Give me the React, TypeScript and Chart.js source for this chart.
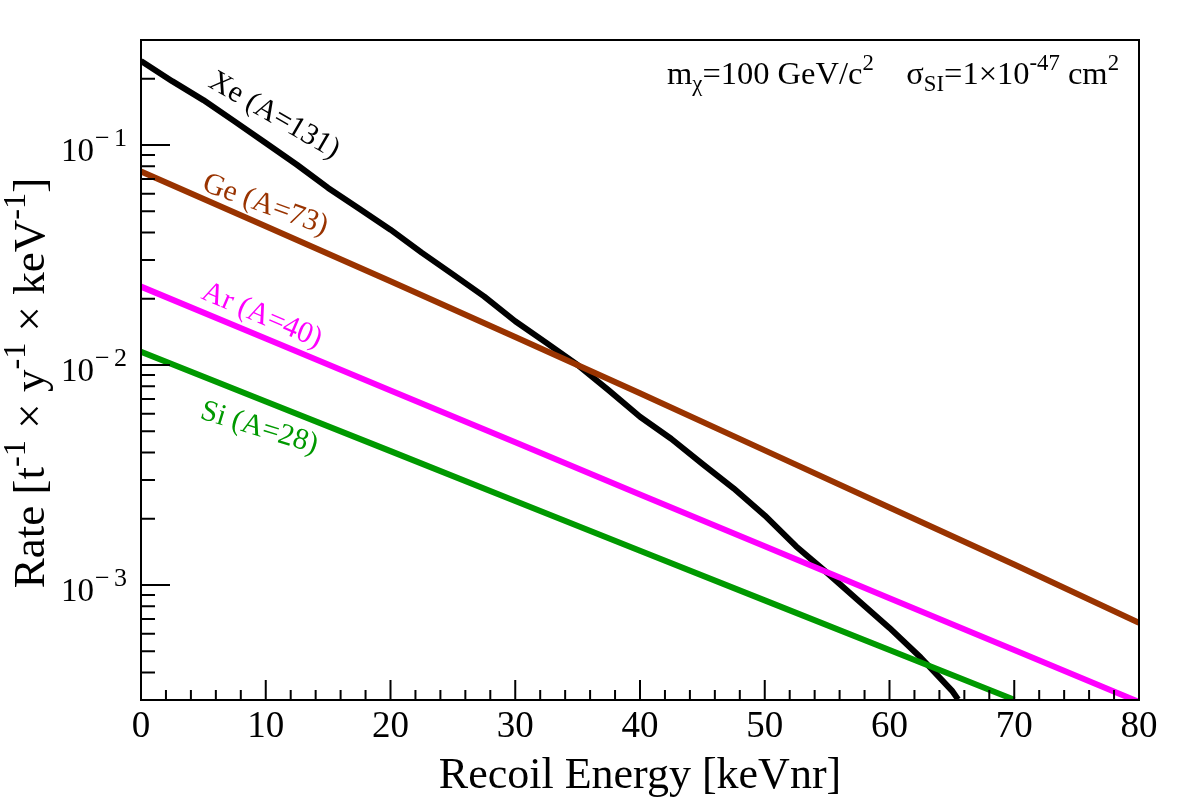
import React, { useEffect, useRef } from "react";
import { Chart, registerables } from "chart.js";

Chart.register(...registerables);

// Differential WIMP recoil spectra, rate in events / (t · y · keV)
const energyXe = [0, 2.5, 5, 7.5, 10, 12.5, 15, 17.5, 20, 22.5, 25, 27.5, 30, 32.5, 35, 37.5, 40, 42.5, 45, 47.5, 50, 52.5, 55, 57.5, 60, 62.5, 65, 65.5];
const rateXe = [0.241, 0.195, 0.16, 0.128, 0.102, 0.0813, 0.0638, 0.0513, 0.0412, 0.0324, 0.0258, 0.0205, 0.0158, 0.0126, 0.01, 0.00767, 0.00582, 0.00462, 0.00355, 0.00275, 0.00207, 0.0015, 0.001135, 0.000851, 0.000638, 0.000468, 0.000331, 0.000302];

const energyGe = [0, 10, 20, 30, 40, 50, 60, 70, 80];
const rateGe = [0.0757, 0.0427, 0.024, 0.0134, 0.00743, 0.00409, 0.00225, 0.00124, 0.000673];

const energyAr = [0, 10, 20, 30, 40, 50, 60, 70, 80];
const rateAr = [0.0227, 0.01318, 0.00766, 0.00445, 0.00258, 0.0015, 0.000871, 0.000506, 0.000294];

const energySi = [0, 10, 20, 30, 40, 50, 60, 70];
const rateSi = [0.01148, 0.00682, 0.00406, 0.00241, 0.00143, 0.000851, 0.000506, 0.000301];

const xTicks = [0, 10, 20, 30, 40, 50, 60, 70, 80];
const yDecades = [-3, -2, -1];

const SERIF = '"Liberation Serif", "Times New Roman", serif';

type Seg = { t: string; s?: number };

function richWidth(ctx: CanvasRenderingContext2D, segs: Seg[], size: number, ss: number) {
  let w = 0;
  for (const sg of segs) {
    ctx.font = `${sg.s ? size * ss : size}px ${SERIF}`;
    w += ctx.measureText(sg.t).width;
  }
  return w;
}

function drawRich(
  ctx: CanvasRenderingContext2D,
  segs: Seg[],
  x: number,
  y: number,
  size: number,
  align: "left" | "right" | "center",
  ss = 0.7
) {
  const w = richWidth(ctx, segs, size, ss);
  let cx = align === "left" ? x : align === "right" ? x - w : x - w / 2;
  ctx.textAlign = "left";
  ctx.textBaseline = "alphabetic";
  for (const sg of segs) {
    const fs = sg.s ? size * ss : size;
    ctx.font = `${fs}px ${SERIF}`;
    const dy = sg.s === 1 ? -size * 0.42 : sg.s === -1 ? size * 0.22 : 0;
    ctx.fillText(sg.t, cx, y + dy);
    cx += ctx.measureText(sg.t).width;
  }
}

const curveLabels = [
  { text: "Xe (A=131)", color: "#000000", x: 207, y: 86, angle: 30 },
  { text: "Ge (A=73)", color: "#993300", x: 201, y: 190, angle: 20 },
  { text: "Ar (A=40)", color: "#ff00ff", x: 200, y: 298, angle: 23 },
  { text: "Si (A=28)", color: "#009900", x: 199, y: 418, angle: 17 },
];

const framePlugin = {
  id: "rootFrame",
  afterDatasetsDraw(chart: any) {
    const ctx: CanvasRenderingContext2D = chart.ctx;
    const { left, right, top, bottom } = chart.chartArea;
    const xs = chart.scales.x;
    const ys = chart.scales.y;
    ctx.save();
    ctx.strokeStyle = "#000";
    ctx.fillStyle = "#000";
    ctx.lineWidth = 2;
    ctx.strokeRect(left, top, right - left, bottom - top);

    // x ticks (inside, every 2 keV)
    ctx.lineWidth = 2;
    ctx.beginPath();
    for (let v = 0; v <= 80; v += 2) {
      const px = xs.getPixelForValue(v);
      const len = v % 10 === 0 ? 20 : 10;
      ctx.moveTo(px, bottom);
      ctx.lineTo(px, bottom - len);
    }
    // y ticks (inside, log)
    for (let n = -4; n <= -1; n++) {
      for (let k = 1; k <= 9; k++) {
        const v = k * Math.pow(10, n);
        if (v < ys.min * 0.999 || v > ys.max * 1.001) continue;
        const py = ys.getPixelForValue(v);
        const len = k === 1 ? 29 : 14;
        ctx.moveTo(left, py);
        ctx.lineTo(left + len, py);
      }
    }
    ctx.stroke();

    // x tick labels
    ctx.textAlign = "center";
    ctx.textBaseline = "alphabetic";
    ctx.font = `37px ${SERIF}`;
    for (const v of xTicks) {
      ctx.fillText(String(v), xs.getPixelForValue(v), 737);
    }

    // y tick labels 10^n
    for (const n of yDecades) {
      const py = ys.getPixelForValue(Math.pow(10, n));
      ctx.textAlign = "right";
      ctx.font = `33px ${SERIF}`;
      ctx.fillText("10", left - 47, py + 16);
      ctx.textAlign = "left";
      ctx.font = `26px ${SERIF}`;
      ctx.fillText("\u2212", left - 46, py + 1);
      ctx.fillText(String(-n), left - 27, py + 1);
    }

    // axis titles
    ctx.fillStyle = "#000";
    drawRich(ctx, [{ t: "Recoil Energy [keVnr]" }], (left + right) / 2, 788, 44, "center");
    ctx.save();
    ctx.translate(44, 383);
    ctx.rotate(-Math.PI / 2);
    drawRich(
      ctx,
      [
        { t: "Rate [t" },
        { t: "-1", s: 1 },
        { t: " \u00d7 y" },
        { t: "-1", s: 1 },
        { t: " \u00d7 keV" },
        { t: "-1", s: 1 },
        { t: "]" },
      ],
      0,
      0,
      45,
      "center",
      0.72
    );
    ctx.restore();

    // model annotation
    drawRich(
      ctx,
      [
        { t: "m" },
        { t: "\u03c7", s: -1 },
        { t: "=100 GeV/c" },
        { t: "2", s: 1 },
        { t: "    \u03c3" },
        { t: "SI", s: -1 },
        { t: "=1\u00d710" },
        { t: "-47", s: 1 },
        { t: " cm" },
        { t: "2", s: 1 },
      ],
      1119,
      84,
      32.5,
      "right"
    );

    // curve labels
    for (const lb of curveLabels) {
      ctx.save();
      ctx.translate(lb.x, lb.y);
      ctx.rotate((lb.angle * Math.PI) / 180);
      ctx.fillStyle = lb.color;
      ctx.font = `30px ${SERIF}`;
      ctx.textAlign = "left";
      ctx.textBaseline = "alphabetic";
      ctx.fillText(lb.text, 0, 0);
      ctx.restore();
    }
    ctx.restore();
  },
};

function toPoints(xs: number[], ys: number[]) {
  return xs.map((x, i) => ({ x, y: ys[i] }));
}

export default function App() {
  const ref = useRef<HTMLCanvasElement | null>(null);

  useEffect(() => {
    document.body.style.margin = "0";
    const canvas = ref.current;
    if (!canvas) return;
    const line = (label: string, xs: number[], ys: number[], color: string) => ({
      label,
      data: toPoints(xs, ys),
      borderColor: color,
      backgroundColor: color,
      borderWidth: 6,
      pointRadius: 0,
      tension: 0,
      clip: 0,
      borderJoinStyle: "round" as const,
      borderCapStyle: "butt" as const,
    });
    const chart = new Chart(canvas, {
      type: "line",
      data: {
        datasets: [
          line("Ge", energyGe, rateGe, "#993300"),
          line("Ar", energyAr, rateAr, "#ff00ff"),
          line("Si", energySi, rateSi, "#009900"),
          line("Xe", energyXe, rateXe, "#000000"),
        ],
      },
      options: {
        responsive: false,
        animation: false,
        events: [],
        layout: { padding: { left: 141, right: 43, top: 40, bottom: 98 } },
        plugins: { legend: { display: false }, tooltip: { enabled: false } },
        scales: {
          x: { type: "linear", min: 0, max: 80, display: false },
          y: { type: "logarithmic", min: 3e-4, max: 0.3, display: false },
        },
      },
      plugins: [framePlugin],
    });
    return () => chart.destroy();
  }, []);

  return (
    <div style={{ width: 1182, height: 798, background: "#fff" }}>
      <canvas ref={ref} width={1182} height={798} style={{ display: "block" }} />
    </div>
  );
}
